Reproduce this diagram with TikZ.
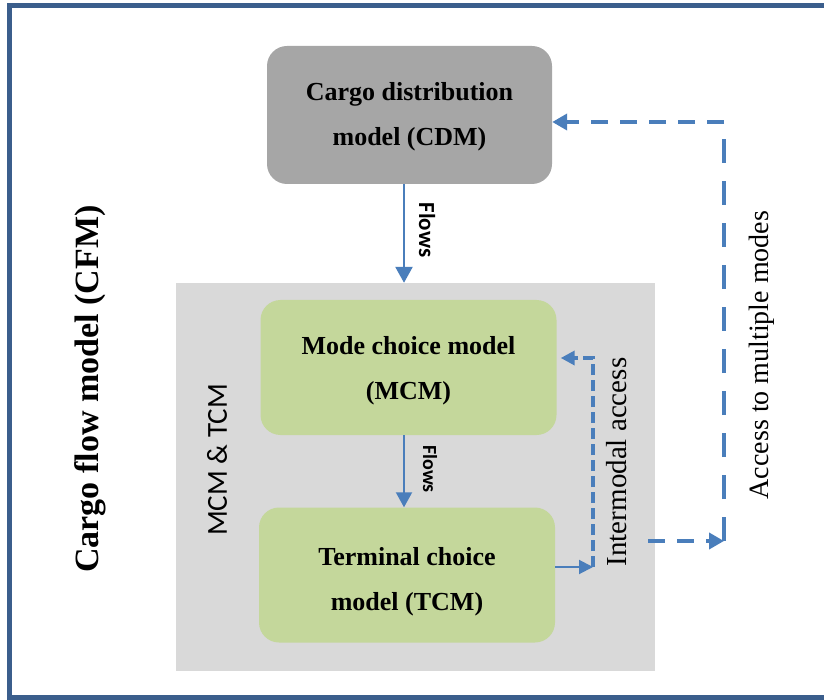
\documentclass[tikz,border=0pt]{standalone}
\usepackage{fontspec}
\setmainfont{Liberation Serif}
\newfontfamily\labelfont{Carlito}
\usepackage{tikz}
\usetikzlibrary{arrows.meta,positioning}

\definecolor{frameblue}{RGB}{59,94,140}
\definecolor{arrowblue}{RGB}{74,126,187}
\definecolor{cdmgray}{RGB}{166,166,166}
\definecolor{zonegray}{RGB}{217,217,217}
\definecolor{boxgreen}{RGB}{196,215,155}

\begin{document}
\begin{tikzpicture}[
        x=1pt, y=-1pt,
        >=Stealth,
        model/.style={
            rounded corners=20pt,
            inner sep=0pt
        },
        boxtext/.style={
            align=center,
            inner sep=0pt,
            font=\bfseries\fontsize{26}{45}\selectfont
        },
        cdmbox/.style={model, fill=cdmgray, minimum width=285pt, minimum height=138pt},
        choicebox/.style={model, fill=boxgreen, minimum width=296pt, minimum height=135pt},
        zone/.style={fill=zonegray, inner sep=0pt, minimum width=479pt, minimum height=388pt},
        flow/.style={arrowblue, line width=2.5pt, -{Triangle[length=16pt,width=17pt]}},
        flowlbl/.style={rotate=-90, font=\labelfont\bfseries\fontsize{23}{23}\selectfont},
        access/.style={arrowblue, line width=4.5pt, dash pattern=on 17pt off 12pt,
            -{Triangle[length=15pt,width=16pt]}},
        sidelbl/.style={rotate=90, font=\fontsize{28}{28}\selectfont}
    ]
        \useasboundingbox (0,0) rectangle (824,700);
        \clip (0,0) rectangle (824,700);
        \draw[frameblue, line width=5pt] (9.5,5.8) rectangle (840,697);

        \node[cdmbox] (cdm) at (409.5,115) {};
        \node[boxtext] (cdmtext) at ([yshift=-2pt]cdm.center) {Cargo distribution\\model (CDM)};
        \node[zone] (zone) at (415.5,477) {};
        \node[choicebox] (mcm) at (408.5,367.5) {};
        \node[boxtext] (mcmtext) at ([yshift=-3pt]mcm.center) {Mode choice model\\(MCM)};
        \node[choicebox] (tcm) at (407,575) {};
        \node[boxtext] (tcmtext) at ([yshift=-7pt]tcm.center) {Terminal choice\\model (TCM)};

        \node[rotate=90, font=\bfseries\fontsize{34}{34}\selectfont] (cfm) at (90,389)
            {Cargo flow model (CFM)};
        \node[rotate=90, font=\labelfont\fontsize{29}{29}\selectfont] (zonelbl) at (217,460)
            {MCM \& TCM};

        % flows between the models
        \draw[flow] ([xshift=-5.5pt]cdm.south) -- ([xshift=-5.5pt]cdm.south |- zone.north);
        \node[flowlbl] (flows1) at (427,230) {Flows};
        \draw[flow, line width=2pt, -{Triangle[length=15pt,width=16pt]}]
            ([xshift=-4.5pt]mcm.south) -- ([xshift=-4.5pt]mcm.south |- tcm.north);
        \node[flowlbl, font=\labelfont\bfseries\fontsize{20}{20}\selectfont] (flows2) at (430,469) {Flows};

        % intermodal access
        \coordinate (ia) at (593,567);
        \coordinate (ib) at (593,358);
        \draw[arrowblue, line width=2pt, -{Triangle[length=14pt,width=14pt]}]
            (tcm.east |- ia) -- (ia);
        \draw[arrowblue, line width=4pt, dash pattern=on 11pt off 5pt,
            -{Triangle[length=14pt,width=14pt]}] (ia) -- (ib) -- ([xshift=4pt]ib -| mcm.east);
        \node[sidelbl, font=\fontsize{29}{29}\selectfont] (ialbl) at (617,462) {Intermodal access};

        % access to multiple modes
        \coordinate (ma) at (724,541);
        \coordinate (mb) at (724,122);
        \draw[access] ([xshift=-7pt]zone.east |- ma) -- (ma);
        \draw[access, -, dash pattern=on 24pt off 18pt] (ma) -- (mb);
        \draw[access] (mb) -- (mb -| cdm.east);
        \node[sidelbl] (malbl) at (762,355) {Access to multiple modes};
\end{tikzpicture}
\end{document}
